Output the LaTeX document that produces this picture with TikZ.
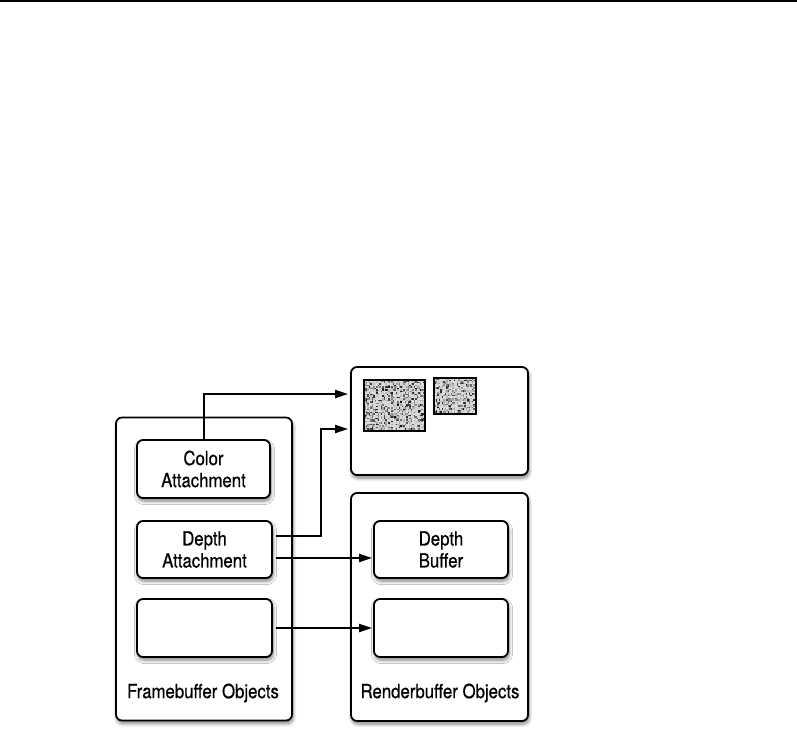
\documentclass[tikz,border=0pt]{standalone}
\usepackage{fontspec}
\setmainfont{TeX Gyre Heros}[FakeStretch=0.86,FakeBold=0.6]
\usetikzlibrary{arrows.meta,shadows.blur}
\begin{document}
\begin{tikzpicture}[x=1pt,y=-1pt,
  shd/.style={blur shadow={shadow xshift=1pt, shadow yshift=-3pt, shadow blur steps=8, shadow blur radius=3.5pt, shadow opacity=50}},
  outerbox/.style={draw, line width=1.8pt, rounded corners=6pt, fill=white, shd, inner sep=0pt},
  innerbox/.style={draw, line width=1.8pt, rounded corners=6pt, fill=white, shd, inner sep=0pt,
    align=center, font=\fontsize{19.5}{22}\selectfont},
  lbl/.style={font=\fontsize{19.5}{22}\selectfont, inner sep=0pt},
  conn/.style={line width=2pt, -{Triangle[length=13pt,width=8pt]}},
  noisebox/.style={draw, line width=2.2pt, inner sep=0pt}]
\useasboundingbox (0,0) rectangle (797,741);
\coordinate (tl) at (0,1);
\coordinate (tr) at (797,1);
\draw[line width=1.5pt] (tl) -- (tr);

% outer containers
\node[outerbox, minimum width=176pt, minimum height=303pt] (fbo) at (204,569) {};
\node[outerbox, minimum width=177pt, minimum height=108pt] (tex) at (439.5,421) {};
\node[outerbox, minimum width=177pt, minimum height=228pt] (rbo) at (439.5,607) {};

% textures with noise
\pgfmathsetseed{12}
\foreach \i in {0,...,40}{
  \foreach \j in {0,...,33}{
    \pgfmathsetmacro\g{int(14+80*rnd^4)}
    \fill[black!\g] ({364+1.5*\i},{380+1.5*\j}) rectangle ++(1.5,1.5);
  }
}
\foreach \i in {0,...,27}{
  \foreach \j in {0,...,23}{
    \pgfmathsetmacro\g{int(14+80*rnd^4)}
    \fill[black!\g] ({434+1.5*\i},{378+1.5*\j}) rectangle ++(1.5,1.5);
  }
}
\node[noisebox, minimum width=61pt, minimum height=51pt] (texA) at (394.5,405.5) {};
\node[noisebox, minimum width=42pt, minimum height=36pt] (texB) at (455,396) {};

% inner boxes
\node[innerbox, minimum width=133pt, minimum height=58pt] (color) at (203.5,469) {Color\\Attachment};
\node[innerbox, minimum width=135pt, minimum height=57pt] (depthA) at (204.5,549.5) {Depth\\Attachment};
\node[innerbox, minimum width=135pt, minimum height=58pt] (emptyA) at (204.5,628) {};
\node[innerbox, minimum width=134pt, minimum height=57pt] (depthB) at (441,549.5) {Depth\\Buffer};
\node[innerbox, minimum width=134pt, minimum height=58pt] (emptyB) at (441,628) {};

% labels
\node[lbl] (fbl) at (203,693) {Framebuffer Objects};
\node[lbl] (rbl) at (440,693) {Renderbuffer Objects};

% connectors
\draw[conn] (color.north) |- ([yshift=27pt,xshift=-2pt]tex.west);
\draw[conn] ([yshift=13.5pt,xshift=3pt]depthA.east) -- ++(45,0) |- ([yshift=-8pt,xshift=-2pt]tex.west);
\draw[conn] ([yshift=-8.5pt,xshift=3pt]depthA.east) -- ([yshift=-8.5pt,xshift=-1pt]depthB.west);
\draw[conn] ([xshift=3pt]emptyA.east) -- ([xshift=-1pt]emptyB.west);
\end{tikzpicture}
\end{document}
